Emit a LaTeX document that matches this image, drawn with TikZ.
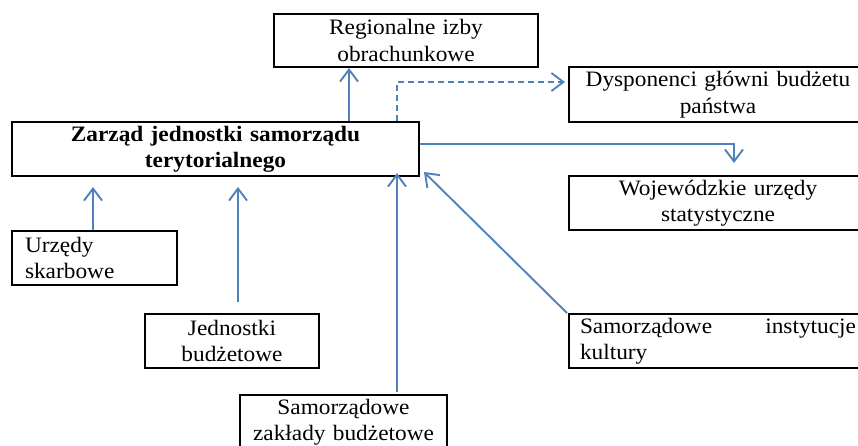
\documentclass[tikz,border=0pt]{standalone}
\usepackage{fontspec}
\setmainfont{Liberation Serif}[FakeStretch=1.06]
\usetikzlibrary{positioning,arrows.meta,calc}
\definecolor{linkblue}{RGB}{79,129,189}

\begin{document}
\begin{tikzpicture}[x=1pt,y=-1pt,
 font=\fontsize{22}{26.5}\selectfont,
 unit/.style={draw, line width=2pt, anchor=north west, inner xsep=4pt, inner ysep=0pt, align=center},
 link/.style={draw=linkblue, line width=1.9pt, -{Straight Barb[length=12pt,width=18pt]}}]

            \useasboundingbox (0,0) rectangle (858,446);

            \node[unit, text width=399pt, minimum height=54pt, font=\fontsize{22}{26}\selectfont\bfseries] (zarzad) at (11,121)
                {Zarząd jednostki samorządu\\terytorialnego};
            \node[unit, text width=256pt, minimum height=53pt] (rio) at (273,13) {Regionalne izby\\obrachunkowe};
            \node[unit, text width=290pt, minimum height=55pt] (dysp) at (568,66) {Dysponenci główni budżetu\\państwa};
            \node[unit, text width=290pt, minimum height=54pt] (woj) at (568,175) {Wojewódzkie urzędy\\statystyczne};
            \node[unit, text width=139pt, minimum height=54pt, inner xsep=13pt, align=left] (us) at (11,230) {Urzędy\\skarbowe};
            \node[unit, text width=166pt, minimum height=54pt] (jb) at (144,313) {Jednostki\\budżetowe};
            \node[unit, text width=199pt, minimum height=54pt] (szb) at (239,394) {Samorządowe\\zakłady budżetowe};
            \node[unit, text width=276pt, minimum height=54pt, inner xsep=11pt, align=left] (sik) at (568,313)
                {Samorządowe\hskip 0pt plus 1filll instytucje\\kultury};

            \coordinate (rio-in) at ([xshift=-57pt]rio.south);
            \coordinate (us-out) at ([xshift=-1.5pt]us.north);
            \coordinate (jb-out) at ([xshift=6pt,yshift=11pt]jb.north);
            \coordinate (szb-out) at ([xshift=53.5pt,yshift=2pt]szb.north);

			\draw[link] (rio-in |- zarzad.north) -- (rio-in);
			\draw[link, dash pattern=on 6pt off 4pt] ([xshift=-23pt]zarzad.north east) |- ([xshift=-3pt,yshift=12.5pt]dysp.west);
			\draw[link] ([yshift=5pt]zarzad.east) -| ([xshift=16pt,yshift=12pt]woj.north);
			\draw[link, shorten >=10pt] (us-out) -- (us-out |- zarzad.south);
			\draw[link, shorten >=10pt] (jb-out) -- (jb-out |- zarzad.south);
			\draw[link, shorten >=-4pt] (szb-out) -- (szb-out |- zarzad.south);
			\draw[link] ([xshift=-1pt]sik.north west) -- ([xshift=4pt,yshift=5pt]zarzad.south east);
\end{tikzpicture}
\end{document}
